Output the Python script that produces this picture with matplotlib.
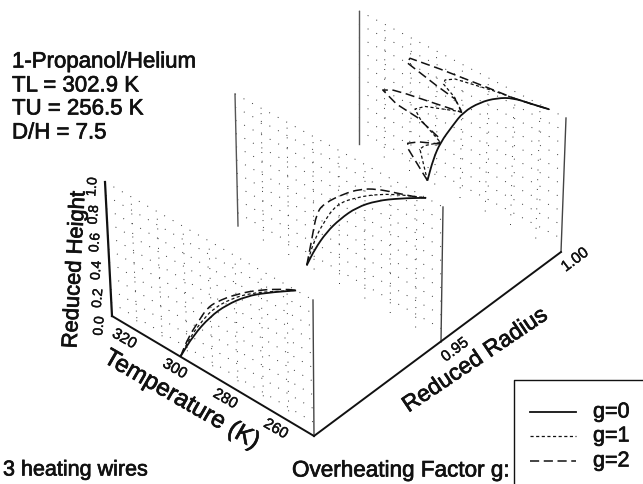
import numpy as np
import matplotlib
matplotlib.use("Agg")
import matplotlib.pyplot as plt
import matplotlib.patheffects as pe
from matplotlib.path import Path
from matplotlib.patches import PathPatch

plt.rcParams['font.family'] = ['Liberation Sans', 'DejaVu Sans']

# ---------- data ----------
radius_walls = [0.90, 0.95, 1.00]
temp_ticks = [320, 300, 280, 260]
height_ticks = [0.0, 0.2, 0.4, 0.6, 0.8, 1.0]
radius_ticks = [0.95, 1.00]
radius_tick_labels = ['0.95', '1.00']

# wall r = 0.90
w1_g0_T = [302.9, 297.4, 290.5, 283.8, 275.8, 267.9, 256.5]
w1_g0_h = [0.0, 0.218, 0.433, 0.595, 0.747, 0.859, 1.0]
w1_g1_T = [302.9, 298.5, 293.0, 289.0, 282.0, 274.0, 265.0, 256.5]
w1_g1_h = [0.0, 0.20, 0.39, 0.51, 0.66, 0.79, 0.90, 1.0]
w1_g2_T = [302.9, 299.4, 295.3, 291.7, 287.7, 279.7, 270.5, 260.0, 256.5]
w1_g2_h = [0.0, 0.183, 0.341, 0.481, 0.576, 0.72, 0.853, 0.971, 1.0]
# wall r = 0.95
w2_g0_T = [302.9, 299.6, 295.0, 289.7, 283.2, 275.4, 266.5, 256.5]
w2_g0_h = [0.0, 0.159, 0.334, 0.49, 0.647, 0.779, 0.891, 1.0]
w2_g1_T = [302.9, 300.2, 296.2, 291.0, 283.2, 274.3, 265.3, 256.5]
w2_g1_h = [0.0, 0.202, 0.393, 0.588, 0.722, 0.841, 0.929, 1.0]
w2_g2_T = [302.9, 300.8, 298.8, 295.5, 288.4, 281.9, 275.5, 267.8, 260.0, 256.5]
w2_g2_h = [0.0, 0.22, 0.443, 0.548, 0.691, 0.797, 0.866, 0.917, 0.967, 1.0]
# wall r = 1.00
w3_g0_T = [302.9, 300.7, 298.0, 293.4, 289.4, 283.0, 276.6, 270.3, 263.3, 256.5]
w3_g0_h = [0.0, 0.185, 0.336, 0.507, 0.649, 0.787, 0.883, 0.947, 0.972, 1.0]
w3_g1_T = [302.9, 306.0, 304.2, 298.0, 306.0, 308.1, 304.2, 290.0, 292.8, 297.2, 296.6, 292.7, 278.0, 270.3, 263.3, 256.5]
w3_g1_h = [0.0, 0.205, 0.249, 0.336, 0.43, 0.484, 0.543, 0.646, 0.726, 0.782, 0.818, 0.864, 0.924, 0.947, 0.972, 1.0]
w3_g2_T = [302.9, 310.6, 310.8, 306.5, 298.2, 298.8, 307.2, 315.3, 320.7, 316.6, 311.4, 290.0, 292.6, 299.8, 311.4, 310.2, 298.6, 280.6, 270.3, 263.3, 256.5]
w3_g2_h = [0.0, 0.16, 0.2, 0.254, 0.322, 0.366, 0.431, 0.449, 0.5, 0.54, 0.564, 0.642, 0.715, 0.743, 0.8, 0.844, 0.88, 0.924, 0.947, 0.972, 1.0]

curves = {
    0.90: [(w1_g0_T, w1_g0_h), (w1_g1_T, w1_g1_h), (w1_g2_T, w1_g2_h)],
    0.95: [(w2_g0_T, w2_g0_h), (w2_g1_T, w2_g1_h), (w2_g2_T, w2_g2_h)],
    1.00: [(w3_g0_T, w3_g0_h), (w3_g1_T, w3_g1_h), (w3_g2_T, w3_g2_h)],
}
legend_labels = ['g=0', 'g=1', 'g=2']
info_lines = ['1-Propanol/Helium', 'TL = 302.9 K', 'TU = 256.5 K', 'D/H = 7.5']

# ---------- oblique view of the box: corners of each wall on the canvas ----------
T_L, T_R = 330.0, 250.0
view = {
    'x00': [112, 238, 359], 'y00': [317, 227, 145],   # T=330, h=0
    'x01': [105, 235, 359], 'y01': [183, 95, 12],     # T=330, h=1
    'x10': [314, 441, 561], 'y10': [437, 343, 253],   # T=250, h=0
    'x11': [313, 443, 566], 'y11': [301, 208, 119],   # T=250, h=1
}

def project(T, r, h):
    T, h = np.asarray(T, float), np.asarray(h, float)
    f = (T_L - T) / (T_L - T_R)
    out = []
    for c in 'xy':
        a = np.interp(r, radius_walls, view[c + '00'])
        b = np.interp(r, radius_walls, view[c + '01'])
        d = np.interp(r, radius_walls, view[c + '10'])
        e = np.interp(r, radius_walls, view[c + '11'])
        out.append((1 - f) * ((1 - h) * a + h * b) + f * ((1 - h) * d + h * e))
    return out

def smooth_path(x, y):
    """Quadratic segments through the midpoints, so the line has no visible kinks."""
    pts = np.column_stack([x, y])
    verts, codes = [pts[0]], [Path.MOVETO]
    for i in range(1, len(pts) - 1):
        if i == 1:
            verts.append((pts[0] + pts[1]) / 2); codes.append(Path.LINETO)
        verts.append(pts[i]); codes.append(Path.CURVE3)
        verts.append((pts[i] + pts[i + 1]) / 2); codes.append(Path.CURVE3)
    verts.append(pts[-1]); codes.append(Path.LINETO)
    return Path(verts, codes)

fig = plt.figure(figsize=(6.43, 4.85), dpi=100)
ax = fig.add_axes([0, 0, 1, 1])
ax.set_xlim(0, 643)
ax.set_ylim(485, 0)
ax.axis('off')

INK = '#111111'

def label(x, y, s, stroke=0.5, **kw):
    kw.setdefault('ha', 'center')
    kw.setdefault('va', 'center')
    return ax.text(x, y, s, color=INK,
                   path_effects=[pe.withStroke(linewidth=stroke, foreground=INK)], **kw)

grid_kw = dict(color='#333333', lw=0.7, ls=(0, (1, 9)), zorder=1)
for r in radius_walls:
    for T in np.arange(T_R + 10, T_L, 10):
        ax.plot(*project([T, T], r, [0, 1]), **grid_kw)
    for h in np.arange(1, 11) / 10:
        ax.plot(*project([T_L, T_R], r, [h, h]), **grid_kw)
    ax.plot(*project([T_R, T_R], r, [0, 1]), color='#444444', lw=1.0, zorder=2)
    if r > 0.90:
        ax.plot(*project([T_L, T_L], r, [0, 1]), color='#555555', lw=1.0, zorder=2)

# outer axes
ax.plot(*project([T_L, T_L], 0.90, [0, 1]), color=INK, lw=1.6, zorder=3)
ax.plot(*project([T_L, T_R], 0.90, [0, 0]), color=INK, lw=1.4, zorder=3)
xa0, ya0 = project(T_R, 0.90, 0.0)
xa1, ya1 = project(T_R, 1.00, 0.0)
ax.plot([xa0, xa1], [ya0, ya1], color=INK, lw=1.4, zorder=3)

# curves
styles = [
    dict(lw=1.3, ls='-'),
    dict(lw=0.9, ls=(0, (2.5, 2))),
    dict(lw=1.1, ls=(0, (6, 3))),
]
for r, group in curves.items():
    for k, ((Ts, hs), st) in enumerate(zip(group, styles)):
        x, y = project(Ts, r, hs)
        if r == 1.00 and k > 0:          # zigzag lines keep their sharp corners
            ax.plot(x, y, color=INK, zorder=4, **st)
        else:
            ax.add_patch(PathPatch(smooth_path(x, y), fill=False, edgecolor=INK,
                                   linewidth=st['lw'], linestyle=st['ls'], zorder=4))

# tick labels
for T in temp_ticks:
    x, y = project(T, 0.90, 0.0)
    label(x - 13, y + 8, str(T), stroke=0.3, fontsize=11, rotation=-30, rotation_mode='anchor')
for h in height_ticks:
    x, y = project(T_L, 0.90, h)
    label(x - 13, y + 10 - 5 * h, f'{h:.1f}', stroke=0.3, fontsize=10, rotation=85, rotation_mode='anchor')
for r, lab in zip(radius_ticks, radius_tick_labels):
    x, y = project(T_R, r, 0.0)
    label(x + 14, y + 8, lab, stroke=0.3, fontsize=11, rotation=37, rotation_mode='anchor')

# axis titles
label(75, 271, 'Reduced Height', fontsize=15.8, rotation=87, rotation_mode='anchor')
label(181, 401, 'Temperature (K)', fontsize=17.5, rotation=-30, rotation_mode='anchor')
label(475, 361, 'Reduced Radius', fontsize=16.5, rotation=34, rotation_mode='anchor')

# notes
for y, s in zip([63, 87, 110, 134], info_lines):
    label(12, y, s, fontsize=16, ha='left')
label(3, 471, '3 heating wires', fontsize=15.5, ha='left')
label(292, 472, 'Overheating Factor g:', fontsize=16.2, ha='left')

# legend box
ax.plot([514, 514, 643], [485, 381, 381], color=INK, lw=1.0, zorder=3)
for y, st, lab in zip([413, 437, 462], styles, legend_labels):
    ax.plot([530, 576], [y, y], color=INK, zorder=3, **st)
    label(593, y, lab, fontsize=15.5, ha='left')

fig.savefig('out.png', dpi=100)
